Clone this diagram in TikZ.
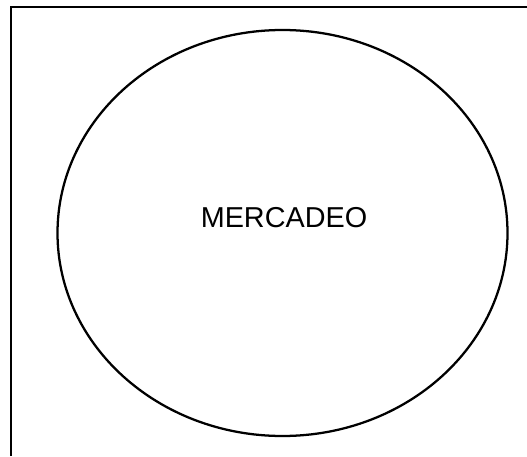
\documentclass[tikz,border=0pt]{standalone}
\usepackage{fontspec}
\setmainfont{Liberation Sans}
\usetikzlibrary{positioning}

\begin{document}
\begin{tikzpicture}[x=0.75pt,y=-0.75pt,line width=2pt]
  \useasboundingbox (0,0) rectangle (527,456);          % page size
  \draw (11,456) -- (11,7) -- (527,7) ;                  % frame, left and top

  \draw[line width=1.7pt] (282.5,233) ellipse (225 and 203) ;   % market circle
  \node (mercadeo) at (284,218) {\fontsize{21.6}{24}\selectfont MERCADEO} ;  % label

\end{tikzpicture}
\end{document}
